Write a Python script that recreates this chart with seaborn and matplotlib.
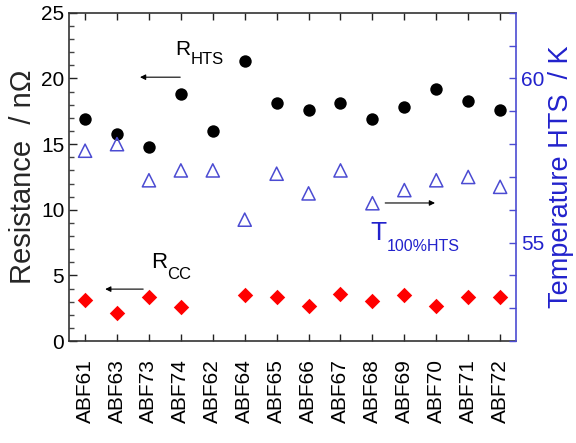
import numpy as np
import pandas as pd
import matplotlib
matplotlib.use("Agg")
import matplotlib.pyplot as plt
from matplotlib.ticker import MultipleLocator
import seaborn as sns

samples = ["ABF61", "ABF63", "ABF73", "ABF74", "ABF62", "ABF64", "ABF65",
           "ABF66", "ABF67", "ABF68", "ABF69", "ABF70", "ABF71", "ABF72"]
r_hts = [16.9, 15.8, 14.8, 18.8, 16.0, 21.3, 18.1, 17.6, 18.1, 16.9, 17.8, 19.2, 18.3, 17.6]
r_cc = [3.13, 2.11, 3.33, 2.57, np.nan, 3.51, 3.38, 2.67, 3.56, 3.08, 3.49, 2.67, 3.33, 3.38]
t_hts = [57.8, 58.0, 56.9, 57.2, 57.2, 55.7, 57.1, 56.5, 57.2, 56.2, 56.6, 56.9, 57.0, 56.7]

sns.set_style("ticks")
plt.rcParams["font.family"] = ["Liberation Sans", "DejaVu Sans"]

BLUE_TXT = "#2222cc"
BLUE_MK = "#4b4bd2"

df = pd.DataFrame({"sample": samples, "pos": np.arange(len(samples)),
                   "r_hts": r_hts, "r_cc": r_cc, "t_hts": t_hts})

fig = plt.figure(figsize=(5.76, 4.43), dpi=100)
ax = fig.add_axes([0.12, 0.23, 0.776, 0.741])
ax2 = ax.twinx()

sns.scatterplot(data=df, x="pos", y="r_hts", ax=ax, marker="o", s=80,
                color="black", edgecolor="black", linewidth=0, zorder=3)
sns.scatterplot(data=df.dropna(subset=["r_cc"]), x="pos", y="r_cc", ax=ax, marker="D", s=62,
                color="#ff0000", edgecolor="#ff0000", linewidth=0, zorder=3)
sns.scatterplot(data=df, x="pos", y="t_hts", ax=ax2, marker="^", s=90,
                facecolor="none", edgecolor=BLUE_MK, linewidth=1.1, zorder=3)

ax.set_xlim(-0.5, len(samples) - 0.5)
ax.set_ylim(0, 25)
ax2.set_ylim(52, 62)

ax.set_xticks(df["pos"])
ax.set_xticklabels(samples, rotation=90, fontsize=15)
ax.set_xlabel("")
ax.set_ylabel("Resistance  / n\u03a9", fontsize=21, labelpad=3)
ax.yaxis.set_major_locator(MultipleLocator(5))
ax.yaxis.set_minor_locator(MultipleLocator(1))
ax.tick_params(axis="y", which="major", direction="in", length=6, width=1, labelsize=15, colors="#222222")
ax.tick_params(axis="y", which="minor", direction="in", length=3.5, width=1, colors="#444444")
ax.tick_params(axis="x", which="major", direction="in", length=5, width=1, top=True,
               labelsize=15, colors="#222222", pad=13)
for lab in ax.get_xticklabels() + ax.get_yticklabels():
    lab.set_color("black")

ax2.set_ylabel("Temperature HTS  / K", fontsize=19.5, color=BLUE_TXT, labelpad=3)
ax2.yaxis.set_major_locator(MultipleLocator(5))
ax2.yaxis.set_minor_locator(MultipleLocator(1))
ax2.tick_params(axis="y", which="major", direction="in", length=5, width=1,
                labelsize=15, colors=BLUE_MK, labelcolor=BLUE_TXT)
ax2.tick_params(axis="y", which="minor", direction="in", length=5, width=1, colors=BLUE_MK)

for sp in ["left", "bottom", "top"]:
    ax.spines[sp].set_color("#333333")
    ax.spines[sp].set_linewidth(1.2)
    ax2.spines[sp].set_visible(False)
ax.spines["right"].set_visible(False)
ax2.spines["right"].set_color(BLUE_MK)
ax2.spines["right"].set_linewidth(1.2)

# annotations (positions in data coords)
def label(axis, main, sub, x, y, size, subsize, color):
    t = axis.text(x, y, main, fontsize=size, color=color, ha="left", va="baseline")
    axis.annotate(sub, xy=(1, 0), xycoords=t, xytext=(0.0, -4), textcoords="offset points",
                  fontsize=subsize, color=color, ha="left", va="baseline")

arrow = dict(arrowstyle="-|>", color="black", lw=0.8, mutation_scale=8, shrinkA=0, shrinkB=0)

label(ax, "R", "HTS", 2.82, 21.8, 15, 12, "black")
ax.annotate("", xy=(1.72, 20.1), xytext=(2.98, 20.1), arrowprops=arrow)

label(ax, "R", "CC", 2.07, 5.56, 16, 12, "black")
ax.annotate("", xy=(0.63, 3.96), xytext=(1.82, 3.96), arrowprops=arrow)

label(ax, "T", "100%HTS", 8.93, 7.7, 19, 11.5, BLUE_TXT)
ax.annotate("", xy=(10.96, 10.52), xytext=(9.4, 10.52), arrowprops=arrow)

fig.savefig("out.png", dpi=100)
